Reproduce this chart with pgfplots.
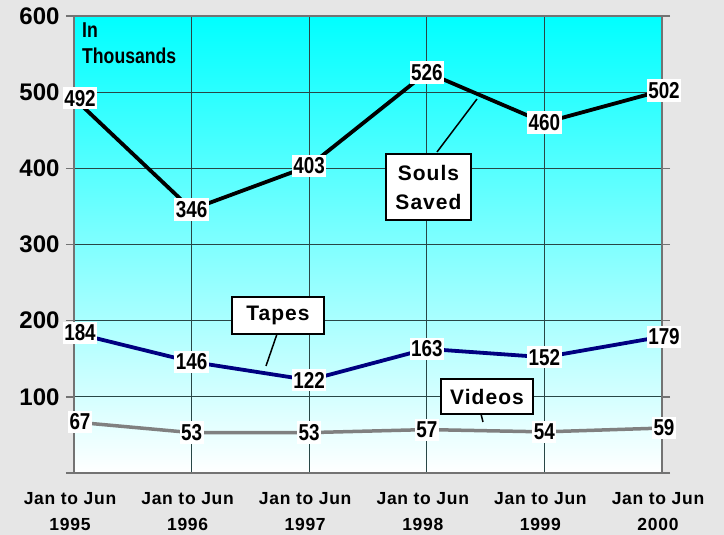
\documentclass[border=0pt]{standalone}
\usepackage{fontspec}
\setmainfont{Liberation Sans}
\newfontfamily\narrowfont[FakeStretch=0.82]{Liberation Sans}
\newfontfamily\spacedfont[LetterSpace=4]{Liberation Sans}
\newfontfamily\calloutfont[LetterSpace=5]{Liberation Sans}
\usepackage{pgfplots}
\pgfplotsset{compat=1.18}
\definecolor{bggray}{RGB}{230,230,230}
\definecolor{gridc}{RGB}{40,70,70}
\definecolor{framec}{RGB}{115,115,115}
\definecolor{navy}{RGB}{0,0,128}
\definecolor{vgray}{RGB}{128,128,128}
\definecolor{topcyan}{RGB}{0,255,255}
\definecolor{midcyan}{RGB}{150,255,255}
\begin{document}
\begin{tikzpicture}
\fill[bggray] (-74pt,-62pt) rectangle (650pt,473pt);
\begin{axis}[
  at={(0,0)}, anchor=south west,
  scale only axis, width=588pt, height=457pt,
  xmin=0, xmax=5, ymin=0, ymax=600,
  xtick={0,1,2,3,4,5},
  xticklabels={{Jan to Jun\\1995},{Jan to Jun\\1996},{Jan to Jun\\1997},{Jan to Jun\\1998},{Jan to Jun\\1999},{Jan to Jun\\2000}},
  ytick={0,100,200,300,400,500,600},
  yticklabels={,100,200,300,400,500,600},
  /pgf/number format/assume math mode=true,
  xticklabel style={font=\spacedfont\bfseries\fontsize{17.5}{26}\selectfont, align=center, yshift=-8pt, xshift=-4pt},
  yticklabel style={font=\bfseries\fontsize{24}{24}\selectfont, xshift=-3pt},
  tick align=outside,
  major tick length=8pt,
  xtick style={draw=none},
  ytick style={draw=framec, line width=1.5pt},
  grid=major,
  major grid style={draw=gridc, line width=1.3pt},
  axis line style={draw=framec, line width=1.8pt},
  axis background/.style={top color=topcyan, middle color=midcyan, bottom color=white},
  clip=false,
  nodes near coords,
  visualization depends on={rawx \as \rx},
  every node near coord/.style={anchor=center, fill=white, inner xsep=1.5pt, inner ysep=3pt, text=black,
     font=\narrowfont\bfseries\fontsize{23}{23}\selectfont,
     xshift={ifthenelse(\rx==0,6,ifthenelse(\rx==5,2,0))}},
  point meta=explicit symbolic,
]
\addplot[black, line width=3.8pt, mark=none] coordinates {
 (0,492) [492] (1,346) [346] (2,403) [403] (3,526) [526] (4,460) [460] (5,502) [502]};
\addplot[navy, line width=3.8pt, mark=none] coordinates {
 (0,184) [184] (1,146) [146] (2,122) [122] (3,163) [163] (4,152) [152] (5,179) [179]};
\addplot[vgray, line width=3.5pt, mark=none] coordinates {
 (0,67) [67] (1,53) [53] (2,53) [53] (3,57) [57] (4,54) [54] (5,59) [59]};
\end{axis}
% callouts (1pt = 1px; origin at plot lower-left: px-74, 473-py)
\draw[black, line width=1.5pt] (363pt,321pt) -- (403pt,374pt);
\node[draw=black, line width=2pt, fill=white, minimum width=85pt, minimum height=66pt, align=center,
  font=\calloutfont\bfseries\fontsize{21}{29}\selectfont, inner sep=0pt] at (354.5pt,286pt) {Souls\\Saved};
\draw[black, line width=1.5pt] (203pt,139pt) -- (192pt,107pt);
\node[draw=black, line width=2pt, fill=white, minimum width=92pt, minimum height=37pt,
  font=\calloutfont\bfseries\fontsize{21}{21}\selectfont, inner sep=0pt] at (204pt,157.5pt) {Tapes};
\draw[black, line width=1.5pt] (407pt,59pt) -- (409pt,51pt);
\node[draw=black, line width=2pt, fill=white, minimum width=92pt, minimum height=35pt,
  font=\calloutfont\bfseries\fontsize{21}{21}\selectfont, inner sep=0pt] at (413pt,76.5pt) {Videos};
\node[anchor=north west, align=left, inner sep=0pt, font=\narrowfont\bfseries\fontsize{21.5}{26}\selectfont] at (8pt,450pt) {In\\Thousands};
\end{tikzpicture}
\end{document}
